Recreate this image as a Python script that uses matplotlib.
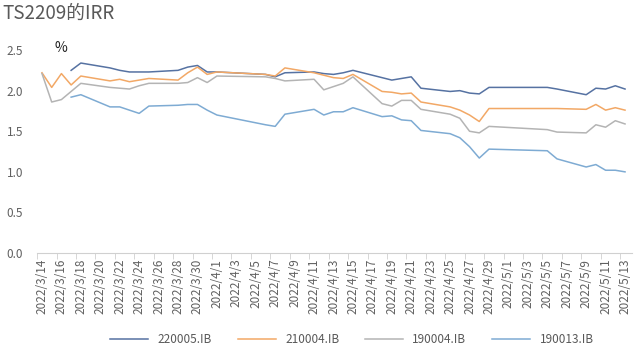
import numpy as np
import pandas as pd
import matplotlib
matplotlib.use("Agg")
import matplotlib.pyplot as plt

plt.rcParams['font.family'] = ['Noto Sans CJK SC', 'DejaVu Sans']

nan = np.nan

# trading days
dates = ["2022-03-14", "2022-03-15", "2022-03-16", "2022-03-17", "2022-03-18",
         "2022-03-21", "2022-03-22", "2022-03-23", "2022-03-24", "2022-03-25",
         "2022-03-28", "2022-03-29", "2022-03-30", "2022-03-31", "2022-04-01",
         "2022-04-06", "2022-04-07", "2022-04-08",
         "2022-04-11", "2022-04-12", "2022-04-13", "2022-04-14", "2022-04-15",
         "2022-04-18", "2022-04-19", "2022-04-20", "2022-04-21", "2022-04-22",
         "2022-04-25", "2022-04-26", "2022-04-27", "2022-04-28", "2022-04-29",
         "2022-05-05", "2022-05-06",
         "2022-05-09", "2022-05-10", "2022-05-11", "2022-05-12", "2022-05-13"]

irr_220005 = [nan, nan, nan, 2.25, 2.34,
              2.28, 2.25, 2.23, 2.23, 2.23,
              2.25, 2.29, 2.31, 2.23, 2.23,
              2.20, 2.17, 2.22,
              2.23, 2.21, 2.20, 2.22, 2.25,
              2.16, 2.13, 2.15, 2.17, 2.03,
              1.99, 2.00, 1.97, 1.96, 2.04,
              2.04, 2.02,
              1.95, 2.03, 2.02, 2.06, 2.02]

irr_210004 = [2.22, 2.04, 2.21, 2.07, 2.18,
              2.12, 2.14, 2.11, 2.13, 2.15,
              2.13, 2.22, 2.29, 2.20, 2.23,
              2.20, 2.18, 2.28,
              2.22, 2.19, 2.16, 2.15, 2.20,
              1.99, 1.98, 1.96, 1.97, 1.86,
              1.80, 1.76, 1.70, 1.62, 1.78,
              1.78, 1.78,
              1.77, 1.83, 1.76, 1.79, 1.76]

irr_190004 = [2.21, 1.86, 1.89, 1.99, 2.09,
              2.04, 2.03, 2.02, 2.06, 2.09,
              2.09, 2.10, 2.16, 2.10, 2.18,
              2.17, 2.15, 2.12,
              2.14, 2.01, 2.05, 2.09, 2.17,
              1.84, 1.81, 1.88, 1.88, 1.77,
              1.71, 1.66, 1.50, 1.48, 1.56,
              1.52, 1.49,
              1.48, 1.58, 1.55, 1.63, 1.59]

irr_190013 = [nan, nan, nan, 1.92, 1.95,
              1.80, 1.80, 1.76, 1.72, 1.81,
              1.82, 1.83, 1.83, 1.76, 1.70,
              1.58, 1.56, 1.71,
              1.77, 1.70, 1.74, 1.74, 1.79,
              1.68, 1.69, 1.64, 1.63, 1.51,
              1.47, 1.42, 1.31, 1.17, 1.28,
              1.26, 1.16,
              1.06, 1.09, 1.02, 1.02, 1.00]

series_names = ["220005.IB", "210004.IB", "190004.IB", "190013.IB"]
series_values = [irr_220005, irr_210004, irr_190004, irr_190013]
colors = ["#5672a2", "#f2a866", "#b4b4b4", "#7eabd3"]

x = pd.to_datetime(dates)

fig = plt.figure(figsize=(6.4, 3.6), dpi=100)
ax = fig.add_axes([0.058, 0.297, 0.93, 0.564])

for name, vals, c in zip(series_names, series_values, colors):
    s = pd.Series(vals, index=x)
    ax.plot(s.index, s.values, color=c, lw=1.1, label=name)

# date axis: labels every 2 days, tick marks between
label_days = pd.date_range("2022-03-14", "2022-05-13", freq="2D")
ax.set_xticks(label_days)
ax.set_xticklabels([f"{d.year}/{d.month}/{d.day}" for d in label_days],
                   rotation=90, fontsize=8.5, color="#606060")
ax.set_xticks(label_days - pd.Timedelta(hours=12), minor=True)
ax.tick_params(axis="x", which="major", length=0, pad=4)
ax.tick_params(axis="x", which="minor", length=4, color="#d0d0d0")
ax.set_xlim(pd.Timestamp("2022-03-13 12:00"), pd.Timestamp("2022-05-13 18:00"))

ax.set_ylim(0, 2.5)
ax.set_yticks(np.arange(0, 2.51, 0.5))
ax.set_yticklabels([f"{v:.1f}" for v in np.arange(0, 2.51, 0.5)],
                   fontsize=8.5, color="#606060")
ax.tick_params(axis="y", length=0, pad=10)

for sp in ["top", "right", "left"]:
    ax.spines[sp].set_visible(False)
ax.spines["bottom"].set_color("#d0d0d0")

ax.text(0.029, 1.01, "%", transform=ax.transAxes, fontsize=10, color="#222222",
        ha="left", va="center")

fig.text(0.003, 0.963, "TS2209的IRR", fontsize=13.5, color="#595959",
         ha="left", va="center")

fig.legend(loc="lower center", bbox_to_anchor=(0.55, 0.01), ncol=4,
           frameon=False, fontsize=8.5, handlelength=3.2, columnspacing=2.2,
           labelcolor="#595959")

fig.savefig("out.png", dpi=100)
